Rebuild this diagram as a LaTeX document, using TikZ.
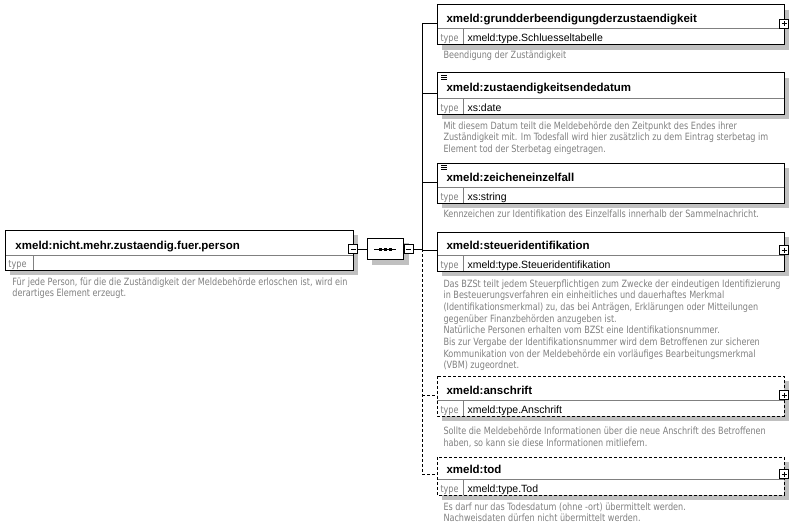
\documentclass[tikz,border=0pt]{standalone}
\usepackage{fontspec}
\setmainfont{Liberation Sans}
\newfontfamily\notefont[FakeStretch=0.81]{DejaVu Sans}
\usetikzlibrary{positioning,shapes.misc}
\definecolor{boxshade}{RGB}{192,192,192}
\definecolor{notegray}{RGB}{128,128,128}
\tikzset{elhead/.style={rectangle, anchor=north west, fill=white, minimum width=346, inner sep=0}, elrow/.style={elhead, minimum height=15}, elframe/.style={draw=black, line width=1pt}, divline/.style={draw=notegray, line width=1pt}, shadowline/.style={draw=boxshade, line width=5pt, line cap=butt, miter limit=10}, optline/.style={dash pattern=on 3pt off 2pt}, elname/.style={anchor=base west, inner sep=0, font=\bfseries\fontsize{11.5}{13}\selectfont}, eltype/.style={anchor=base west, inner sep=0, font=\fontsize{10.5}{12}\selectfont}, typetag/.style={anchor=base west, inner sep=0, text=notegray, font=\notefont\fontsize{10}{11.7}\selectfont}, note/.style={anchor=base west, inner sep=0, align=left, text=notegray, font=\notefont\fontsize{10}{11.7}\selectfont}, plusbox/.style={rectangle, draw, fill=white, line width=1pt, minimum size=9, inner sep=0, path picture={\draw[line width=1pt] ([xshift=2pt]path picture bounding box.west) -- ([xshift=-2pt]path picture bounding box.east) ([yshift=-2pt]path picture bounding box.north) -- ([yshift=2pt]path picture bounding box.south);}}, minusbox/.style={rectangle, draw, fill=white, line width=1pt, minimum size=9, inner sep=0, path picture={\draw[line width=1pt] ([xshift=2pt]path picture bounding box.west) -- ([xshift=-2pt]path picture bounding box.east);}}, seqbox/.style={chamfered rectangle, chamfered rectangle xsep=5pt, chamfered rectangle ysep=5pt, draw, fill=white, line width=1pt, minimum width=36, minimum height=21, inner sep=0}}

\begin{document}
\begin{tikzpicture}[x=1pt, y=-1pt, line width=1pt]
\useasboundingbox (0,0) rectangle (803,527);
% parent element
\node[elhead, minimum width=347, minimum height=24] (person) at (5,230) {};
\node[elrow, minimum width=347, minimum height=14] (personrow) at (person.south west) {};
\draw[shadowline] ([shift={(2.5pt,-5pt)}]person.north east) -- ([shift={(2.5pt,-2.5pt)}]personrow.south east) -- ([shift={(5pt,-2.5pt)}]personrow.south west);
\draw[divline] (person.south west) -- (person.south east) ([xshift=28pt]personrow.north west) -- ([xshift=28pt]personrow.south west);
\draw[elframe] (person.north west) rectangle (personrow.south east);
\node[elname] (personname) at ([shift={(10pt,6pt)}]person.south west) {xmeld:nicht.mehr.zustaendig.fuer.person};
\node[typetag] (persontag) at ([shift={(3pt,3pt)}]personrow.south west) {type};
\coordinate (spine) at (422,249);
\node[minusbox] (personminus) at (person.east |- spine) {};
% sequence
\node[seqbox, draw=boxshade, fill=boxshade] (seqshadow) at (390,254) {};
\node[seqbox] (seq) at (385,249) {};
\draw ([xshift=-11pt]seq.center) -- ([xshift=11pt]seq.center);
\foreach \dx in {-5,0,5} {\fill ([shift={(\dx pt-1.5pt,-1.5pt)}]seq.center) rectangle +(3pt,3pt);}
\node[minusbox, anchor=west] (seqminus) at (seq.east) {};
% child elements
\foreach \nm/\ty/\hh/\frm/\ttl/\typ in {grund/5/23/solid/{xmeld:grundderbeendigungderzustaendigkeit}/{xmeld:type.Schluesseltabelle}, datum/73/24/solid/{xmeld:zustaendigkeitsendedatum}/{xs:date}, zeichen/163/23/solid/{xmeld:zeicheneinzelfall}/{xs:string}, steuer/232/22/solid/{xmeld:steueridentifikation}/{xmeld:type.Steueridentifikation}, anschrift/376/23/optline/{xmeld:anschrift}/{xmeld:type.Anschrift}, tod/457/21/optline/{xmeld:tod}/{xmeld:type.Tod}} {
\node[elhead, minimum height=\hh] (\nm) at (437,\ty) {};
\node[elrow] (\nm row) at (\nm.south west) {};
\draw[shadowline] ([shift={(2.5pt,-5pt)}]\nm.north east) -- ([shift={(2.5pt,-2.5pt)}]\nm row.south east) -- ([shift={(5pt,-2.5pt)}]\nm row.south west);
\draw[divline] (\nm.south west) -- (\nm.south east) ([xshift=26pt]\nm row.north west) -- ([xshift=26pt]\nm row.south west);
\draw[elframe, \frm] (\nm.north west) rectangle (\nm row.south east);
\node[elname] (\nm name) at ([shift={(9pt,6pt)}]\nm.south west) {\ttl};
\node[typetag] (\nm tag) at ([shift={(3pt,3pt)}]\nm row.south west) {type};
\node[eltype] (\nm typ) at ([shift={(30pt,3pt)}]\nm row.south west) {\typ};
\coordinate (\nm-in) at ([yshift=5pt]\nm.south west);
}
\foreach \nm in {datum,zeichen} {\foreach \dy in {2,4,6} {\draw[line width=0.8pt] ([shift={(4pt,-\dy pt)}]\nm.north west) -- ++(6pt,0pt);}}
\foreach \nm in {grund,steuer,anschrift,tod} {\node[plusbox] (\nm-plus) at (\nm.east |- \nm-in) {};}
% connectors
\draw (personminus) -- (seq);
\draw (seqminus) -- (spine);
\draw (grund-in -| spine) -- (spine);
\draw[optline] (spine) -- (tod-in -| spine);
\foreach \nm in {grund,datum,zeichen,steuer} {\draw (\nm-in -| spine) -- (\nm-in);}
\foreach \nm in {anschrift,tod} {\draw[optline] (\nm-in -| spine) -- (\nm-in);}
% annotations (placed at the baseline of their last line)
\node[note] (personnote) at (12,296.7) {Für jede Person, für die die Zuständigkeit der Meldebehörde erloschen ist, wird ein\\derartiges Element erzeugt.};
\node[note] (grundnote) at (443,59) {Beendigung der Zuständigkeit};
\node[note] (datumnote) at (443,152.4) {Mit diesem Datum teilt die Meldebehörde den Zeitpunkt des Endes ihrer\\Zuständigkeit mit. Im Todesfall wird hier zusätzlich zu dem Eintrag sterbetag im\\Element tod der Sterbetag eingetragen.};
\node[note] (zeichennote) at (443,217) {Kennzeichen zur Identifikation des Einzelfalls innerhalb der Sammelnachricht.};
\node[note] (steuernote) at (443,368.9) {Das BZSt teilt jedem Steuerpflichtigen zum Zwecke der eindeutigen Identifizierung\\in Besteuerungsverfahren ein einheitliches und dauerhaftes Merkmal\\(Identifikationsmerkmal) zu, das bei Anträgen, Erklärungen oder Mitteilungen\\gegenüber Finanzbehörden anzugeben ist.\\Natürliche Personen erhalten vom BZSt eine Identifikationsnummer.\\Bis zur Vergabe der Identifikationsnummer wird dem Betroffenen zur sicheren\\Kommunikation von der Meldebehörde ein vorläufiges Bearbeitungsmerkmal\\(VBM) zugeordnet.};
\node[note] (anschriftnote) at (443,446) {Sollte die Meldebehörde Informationen über die neue Anschrift des Betroffenen\\haben, so kann sie diese Informationen mitliefern.};
\node[note] (todnote) at (443,521.7) {Es darf nur das Todesdatum (ohne -ort) übermittelt werden.\\Nachweisdaten dürfen nicht übermittelt werden.};
\end{tikzpicture}
\end{document}
